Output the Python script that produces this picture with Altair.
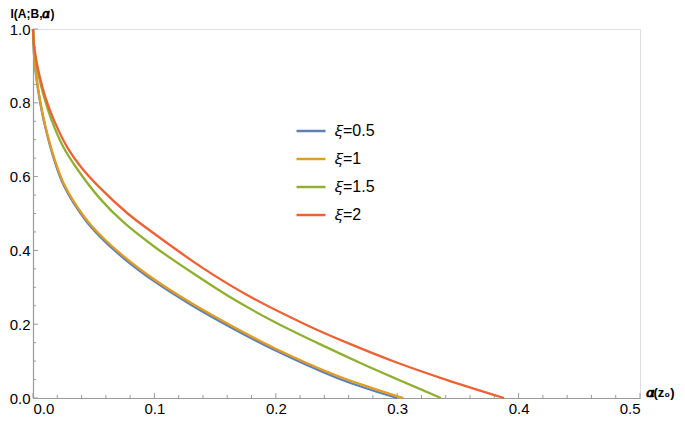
import altair as alt
import pandas as pd

# ---- data ----
series_names = ["𝜉=0.5", "𝜉=1", "𝜉=1.5", "𝜉=2"]
series_colors = ["#5E81B5", "#E19C24", "#8FB032", "#EB6235"]

x_05 = [0, 0.001, 0.002, 0.004, 0.007, 0.010, 0.0175, 0.0258, 0.0425, 0.055, 0.075, 0.1, 0.13, 0.165, 0.199, 0.25, 0.2775, 0.300]
y_05 = [1.0, 0.923, 0.889, 0.839, 0.782, 0.736, 0.645, 0.573, 0.485, 0.438, 0.378, 0.316, 0.253, 0.188, 0.130, 0.055, 0.023, 0.0]

x_1 = [0, 0.001, 0.002, 0.004, 0.007, 0.010, 0.0175, 0.0258, 0.0425, 0.055, 0.075, 0.1, 0.13, 0.165, 0.199, 0.25, 0.2775, 0.305]
y_1 = [1.0, 0.927, 0.893, 0.843, 0.786, 0.74, 0.65, 0.578, 0.49, 0.443, 0.383, 0.321, 0.258, 0.193, 0.135, 0.061, 0.029, 0.0]

x_15 = [0, 0.001, 0.0025, 0.0045, 0.009, 0.015, 0.025, 0.0357, 0.055, 0.075, 0.1, 0.13, 0.165, 0.199, 0.235, 0.271, 0.30, 0.336]
y_15 = [1.0, 0.949, 0.913, 0.877, 0.817, 0.756, 0.680, 0.624, 0.541, 0.475, 0.410, 0.342, 0.268, 0.206, 0.148, 0.093, 0.051, 0.0]

x_2 = [0, 0.001, 0.003, 0.0057, 0.010, 0.0175, 0.029, 0.040, 0.055, 0.078, 0.1, 0.14, 0.1786, 0.2266, 0.26, 0.299, 0.34, 0.388]
y_2 = [1.0, 0.952, 0.910, 0.869, 0.817, 0.751, 0.675, 0.624, 0.570, 0.500, 0.445, 0.352, 0.275, 0.196, 0.148, 0.097, 0.050, 0.0]

x_major = [0.0, 0.1, 0.2, 0.3, 0.4, 0.5]
x_minor = [0.02, 0.04, 0.06, 0.08, 0.12, 0.14, 0.16, 0.18, 0.22, 0.24, 0.26, 0.28,
           0.32, 0.34, 0.36, 0.38, 0.42, 0.44, 0.46, 0.48]
y_major = [0.0, 0.2, 0.4, 0.6, 0.8, 1.0]
y_minor = [0.05, 0.1, 0.15, 0.25, 0.3, 0.35, 0.45, 0.5, 0.55, 0.65, 0.7, 0.75, 0.85, 0.9, 0.95]

rows = []
for name, xs, ys in zip(series_names, [x_05, x_1, x_15, x_2], [y_05, y_1, y_15, y_2]):
    for i, (a, b) in enumerate(zip(xs, ys)):
        rows.append({"series": name, "alpha": a, "I": b, "i": i})
df = pd.DataFrame(rows)

W, H = 607, 369
FONT = "Liberation Sans, DejaVu Sans"
AXC = "#9a9a9a"

xscale = alt.Scale(domain=[0, 0.5], nice=False, zero=False)
yscale = alt.Scale(domain=[0, 1], nice=False, zero=False)

xaxis = alt.Axis(values=x_major, format=".1f", ticks=False, grid=False,
                 domainColor=AXC, domainWidth=1.2, labelFont=FONT, labelFontSize=15,
                 labelColor="#000000", labelPadding=3,
                 title="𝜶(z₀)", titleFont=FONT, titleFontSize=13, titleFontWeight="bold",
                 titleAngle=0, titleX=W + 5, titleY=-2,
                 titleAlign="left", titleBaseline="alphabetic", titleColor="#000000")
yaxis = alt.Axis(values=y_major, format=".1f", ticks=False, grid=False,
                 domainColor=AXC, domainWidth=1.2, labelFont=FONT, labelFontSize=15,
                 labelColor="#000000", labelPadding=3,
                 title="I(A;B,𝜶)", titleFont=FONT, titleFontSize=12, titleFontWeight="bold",
                 titleAngle=0, titleX=-1, titleY=-12, titleAlign="center",
                 titleBaseline="alphabetic", titleColor="#000000")

def X(field):
    return alt.X(field, type="quantitative", scale=xscale, axis=xaxis)

def Y(field):
    return alt.Y(field, type="quantitative", scale=yscale, axis=yaxis)

lines = alt.Chart(df).mark_line(strokeWidth=2.3, interpolate="catmull-rom").encode(
    x=X("alpha"),
    y=Y("I"),
    order="i:Q",
    color=alt.Color("series:N",
                    scale=alt.Scale(domain=series_names, range=series_colors),
                    legend=alt.Legend(title=None, orient="none", legendX=262, legendY=86,
                                      symbolType="stroke", symbolSize=841, symbolStrokeWidth=2.5,
                                      labelFont=FONT, labelFontSize=16, labelColor="#000000",
                                      labelOffset=8, rowPadding=4, padding=0)),
)

xmaj = alt.Chart(pd.DataFrame({"v": x_major})).mark_rule(color=AXC, strokeWidth=1).encode(
    x=X("v"), y=alt.value(H), y2=alt.value(H - 5))
xmin = alt.Chart(pd.DataFrame({"v": x_minor})).mark_rule(color=AXC, strokeWidth=1).encode(
    x=X("v"), y=alt.value(H), y2=alt.value(H - 3))
ymaj = alt.Chart(pd.DataFrame({"v": y_major})).mark_rule(color=AXC, strokeWidth=1).encode(
    y=Y("v"), x=alt.value(0), x2=alt.value(5))
ymin = alt.Chart(pd.DataFrame({"v": y_minor})).mark_rule(color=AXC, strokeWidth=1).encode(
    y=Y("v"), x=alt.value(0), x2=alt.value(3))

chart = alt.layer(xmaj, xmin, ymaj, ymin, lines).properties(
    width=W, height=H,
    autosize=alt.AutoSizeParams(type="none"),
    padding={"left": 25, "top": 21, "right": 37, "bottom": 21},
).configure_view(stroke=None).configure(background="white")

chart.save("out.html", embed_options={"renderer": "svg", "actions": False})
